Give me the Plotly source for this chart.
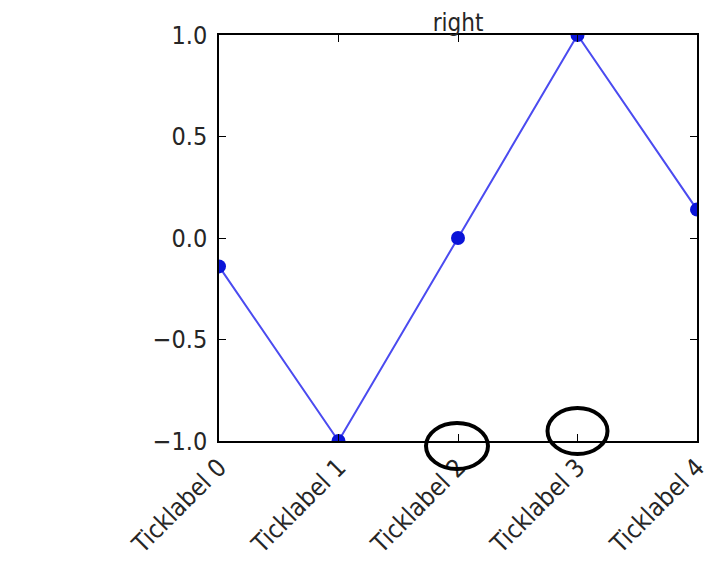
import plotly.graph_objects as go

# data
x_pos = [0, 1, 2, 3, 4]
tick_labels = ['Ticklabel 0', 'Ticklabel 1', 'Ticklabel 2', 'Ticklabel 3', 'Ticklabel 4']
y_vals = [-0.14, -1.0, 0.0, 1.0, 0.14]
y_ticks = [-1.0, -0.5, 0.0, 0.5, 1.0]
circled_ticks = [2, 3]

fig = go.Figure()

fig.add_trace(go.Scatter(
    x=x_pos,
    y=y_vals,
    mode='lines+markers',
    line=dict(color='#4b4bf0', width=2),
    marker=dict(color='#0a14d8', size=14),
    showlegend=False,
    cliponaxis=True
))

# hand-drawn circles round two of the tick marks (domain refs so they are not clipped)
circle_sizes = [(-32, 30, -28, 18), (-30, 30, -13, 33)]
x_span = x_pos[-1] - x_pos[0]
for tick, (x0, x1, y0, y1) in zip(circled_ticks, circle_sizes):
    fig.add_shape(
        type='circle',
        xref='x domain', yref='y domain',
        xsizemode='pixel', ysizemode='pixel',
        xanchor=(tick - x_pos[0]) / x_span, yanchor=0,
        x0=x0, x1=x1, y0=y0, y1=y1,
        line=dict(color='black', width=4),
        layer='above'
    )

font_color = '#262626'
fig.update_layout(
    width=712, height=557,
    margin=dict(l=211, r=23, t=27, b=124, autoexpand=False),
    paper_bgcolor='white', plot_bgcolor='white',
    font=dict(family='DejaVu Sans Condensed, DejaVu Sans', size=25, color=font_color),
    title=dict(text='right', x=0.5, xref='paper', xanchor='center', y=1, yref='paper',
               yanchor='bottom', pad=dict(b=4), font=dict(size=24, color=font_color),
               automargin=False),
    xaxis=dict(
        range=[0, 4], tickvals=x_pos, ticktext=tick_labels, tickangle=-45,
        ticks='inside', ticklen=7, tickcolor='black', showgrid=False, zeroline=False,
        showline=True, linecolor='black', linewidth=1.5, mirror='ticks', automargin=False
    ),
    yaxis=dict(
        range=[-1.0, 1.0], tickvals=y_ticks, tickformat='.1f', ticklabelstandoff=5,
        ticks='inside', ticklen=7, tickcolor='black', showgrid=False, zeroline=False,
        showline=True, linecolor='black', linewidth=1.5, mirror='ticks', automargin=False
    ),
)

fig.write_html('out.html')
